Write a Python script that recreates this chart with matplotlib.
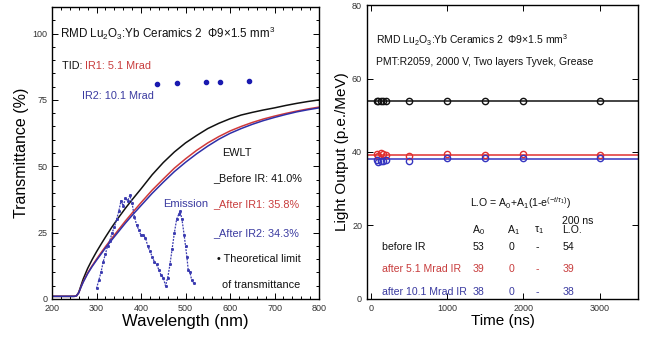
import matplotlib
matplotlib.use("Agg")
import matplotlib.pyplot as plt
from matplotlib.ticker import MultipleLocator

plt.rcParams['font.family'] = ['Liberation Sans', 'DejaVu Sans']
plt.rcParams['mathtext.fontset'] = 'custom'
plt.rcParams['mathtext.rm'] = 'Liberation Sans'
plt.rcParams['mathtext.it'] = 'Liberation Sans:italic'

# ---------------- Left panel data (transmittance) ----------------
wl_black = [200, 250, 255, 260, 265, 270, 280, 290, 300, 310, 320, 335, 350, 365, 380, 400, 425, 450, 475,
            500, 525, 550, 575, 600, 625, 650, 675, 700, 725, 750, 775, 800]
tr_black = [1, 1, 1.2, 2.5, 5, 7.5, 11.5, 14.8, 17.8, 20.6, 23.3, 27.2, 30.8, 34.2, 37.4, 41.5, 46.8, 51.4, 55.4,
            58.8, 61.6, 64.2, 66.2, 67.9, 69.3, 70.3, 71.2, 72, 72.9, 73.7, 74.4, 75]
wl_red = [200, 250, 255, 260, 265, 270, 280, 290, 300, 310, 320, 335, 350, 365, 380, 400, 425, 450, 475,
          500, 525, 550, 575, 600, 625, 650, 675, 700, 725, 750, 775, 800]
tr_red = [1, 1, 1.2, 2.3, 4.5, 6.5, 9.8, 12.5, 15, 17.4, 19.7, 23, 26.2, 29.4, 32.4, 36.3, 41, 45.2, 49.3,
          52.8, 56, 58.8, 61.2, 63.3, 65, 66.5, 67.8, 68.9, 69.9, 70.8, 71.6, 72.3]
wl_blue = [200, 250, 255, 260, 265, 270, 280, 290, 300, 310, 320, 335, 350, 365, 380, 400, 425, 450, 475,
           500, 525, 550, 575, 600, 625, 650, 675, 700, 725, 750, 775, 800]
tr_blue = [1, 1, 1.2, 2.3, 4.4, 6.3, 9.5, 12.2, 14.6, 16.9, 19.2, 22.4, 25.5, 28.6, 31.5, 35.2, 39.8, 44, 48,
           51.5, 54.7, 57.6, 60.2, 62.4, 64.2, 65.8, 67.2, 68.4, 69.5, 70.5, 71.3, 72]

em_wl = [300, 305, 310, 315, 320, 325, 330, 335, 340, 345, 350, 355, 360, 365, 370, 375, 380, 385, 390, 395,
         400, 405, 410, 415, 420, 425, 430, 435, 440, 445, 450, 455, 460, 465, 470, 475, 480, 485, 488,
         492, 497, 500, 503, 506, 510, 514, 518]
em_val = [4, 7, 10, 14, 17, 20, 22, 25, 27, 30, 33, 37, 35, 38, 37, 39, 36, 31, 28, 26,
          24, 24, 23, 20, 18, 16, 14, 13, 11, 9, 8, 5, 8, 13, 19, 25, 30, 32, 33,
          30, 24, 20, 16, 11, 10, 7, 6]

limit_wl = [436, 481, 546, 578, 643]
limit_val = [81, 81.5, 81.8, 81.9, 82]

# ---------------- Right panel data (light output) ----------------
times = [75, 100, 130, 160, 200, 500, 1000, 1500, 2000, 3000]
lo_before = [53.8, 53.8, 53.8, 53.8, 53.8, 53.8, 53.8, 53.8, 53.8, 53.8]
lo_ir1 = [39.5, 39.0, 39.6, 39.4, 39.2, 38.9, 39.5, 39.3, 39.5, 39.2]
lo_ir2 = [37.8, 37.4, 37.5, 37.6, 37.9, 37.6, 38.5, 38.3, 38.4, 38.4]
fit_before = 53.8
fit_ir1 = 39.3
fit_ir2 = 38.2

row_labels = ["before IR", "after 5.1 Mrad IR", "after 10.1 Mrad IR"]
A0 = ["53", "39", "38"]
A1 = ["0", "0", "0"]
tau1 = ["-", "-", "-"]
LO200 = ["54", "39", "38"]

BLACK = '#111111'
RED = '#d03a3a'
BLUE = '#2f2fa8'
TXT_RED = '#c83c3c'
TXT_BLUE = '#3a3aa0'

fig = plt.figure(figsize=(6.47, 3.38), dpi=100)
ax1 = fig.add_axes([0.0804, 0.1154, 0.4127, 0.8639])
ax2 = fig.add_axes([0.5672, 0.1154, 0.4189, 0.8698])

for ax in (ax1, ax2):
    ax.tick_params(which='both', direction='in', top=True, right=True, labelsize=6.5,
                   labelcolor='#333333', width=0.7)
    ax.tick_params(which='major', length=4)
    ax.tick_params(which='minor', length=2)
    for s in ax.spines.values():
        s.set_linewidth(1.0)

# ---- left ----
ax1.plot(wl_black, tr_black, color=BLACK, lw=1.1)
ax1.plot(wl_red, tr_red, color=RED, lw=1.1)
ax1.plot(wl_blue, tr_blue, color=BLUE, lw=1.1)
ax1.plot(em_wl, em_val, color='#3a3ab0', lw=0.9, ls=(0, (1.5, 1)), marker='s', ms=1.1)
ax1.plot(limit_wl, limit_val, 'o', color='#1a1ab0', ms=3)
ax1.set_xlim(200, 800)
ax1.set_ylim(0, 110)
ax1.set_xticks([200, 300, 400, 500, 600, 700, 800])
ax1.set_yticks([0, 25, 50, 75, 100])
ax1.xaxis.set_minor_locator(MultipleLocator(20))
ax1.yaxis.set_minor_locator(MultipleLocator(5))
ax1.set_xlabel('Wavelength (nm)', fontsize=12, labelpad=1)
ax1.set_ylabel('Transmittance (%)', fontsize=11.5, labelpad=2)

fs = 7.8
ax1.text(218, 100, r'RMD Lu$_2$O$_3$:Yb Ceramics 2  Φ9×1.5 mm$^3$', fontsize=8.4, va='center', color=BLACK)
t_tid = ax1.text(222, 86.5, 'TID: ', fontsize=fs, va='baseline', color=BLACK)
ax1.annotate('IR1: 5.1 Mrad', xy=(1, 0), xycoords=t_tid, fontsize=fs, va='bottom', color=TXT_RED)
ax1.text(267, 76.5, 'IR2: 10.1 Mrad', fontsize=fs, va='center', color=TXT_BLUE)
ax1.text(582, 55, 'EWLT', fontsize=fs, va='center', color=BLACK)
ax1.text(562, 45.5, '_Before IR: 41.0%', fontsize=fs, va='center', color=BLACK)
ax1.text(562, 35.6, '_After IR1: 35.8%', fontsize=fs, va='center', color=TXT_RED)
ax1.text(562, 25, '_After IR2: 34.3%', fontsize=fs, va='center', color=TXT_BLUE)
ax1.text(570, 15, '• Theoretical limit', fontsize=fs, va='center', color=BLACK)
ax1.text(582, 5.3, 'of transmittance', fontsize=fs, va='center', color=BLACK)
ax1.text(449, 35.6, 'Emission', fontsize=8, va='center', ha='left', color=TXT_BLUE)

# ---- right ----
ax2.axhline(fit_before, color=BLACK, lw=1.1)
ax2.axhline(fit_ir1, color='#e03030', lw=1.1)
ax2.axhline(fit_ir2, color='#3535c0', lw=1.1)
ax2.plot(times, lo_before, 'o', mfc='none', mec=BLACK, ms=4.5, mew=1.0)
ax2.plot(times, lo_ir1, 'o', mfc='none', mec='#e03030', ms=4.5, mew=1.0)
ax2.plot(times, lo_ir2, 'o', mfc='none', mec='#3535c0', ms=4.5, mew=1.0)
ax2.set_xlim(-50, 3500)
ax2.set_ylim(0, 80)
ax2.set_xticks([0, 1000, 2000, 3000])
ax2.set_yticks([0, 20, 40, 60, 80])
ax2.set_xlabel('Time (ns)', fontsize=11, labelpad=1)
ax2.set_ylabel('Light Output (p.e./MeV)', fontsize=11, labelpad=2)

ax2.text(70, 70.5, r'RMD Lu$_2$O$_3$:Yb Ceramics 2  Φ9×1.5 mm$^3$', fontsize=7.5, va='center', color=BLACK)
ax2.text(70, 64.5, 'PMT:R2059, 2000 V, Two layers Tyvek, Grease', fontsize=7.5, va='center', color=BLACK)
tfs = 7.6
ax2.text(1300, 26, r'L.O = A$_0$+A$_1$(1-e$^{(-t/τ_1)}$)', fontsize=tfs, va='center', color=BLACK)
ax2.text(1330, 18.8, r'A$_0$', fontsize=tfs, va='center', color=BLACK)
ax2.text(1790, 18.8, r'A$_1$', fontsize=tfs, va='center', color=BLACK)
ax2.text(2140, 18.8, r'τ$_1$', fontsize=tfs, va='center', color=BLACK)
ax2.text(2510, 20.0, '200 ns\nL.O.', fontsize=tfs, va='center', color=BLACK, linespacing=0.95)
row_y = [14.1, 8.1, 1.9]
row_col = [BLACK, TXT_RED, TXT_BLUE]
for i in range(3):
    ax2.text(145, row_y[i], row_labels[i], fontsize=tfs, va='center', color=row_col[i])
    ax2.text(1330, row_y[i], A0[i], fontsize=tfs, va='center', color=row_col[i])
    ax2.text(1810, row_y[i], A1[i], fontsize=tfs, va='center', color=row_col[i])
    ax2.text(2160, row_y[i], tau1[i], fontsize=tfs, va='center', color=row_col[i])
    ax2.text(2510, row_y[i], LO200[i], fontsize=tfs, va='center', color=row_col[i])

fig.savefig('out.png', dpi=100)
